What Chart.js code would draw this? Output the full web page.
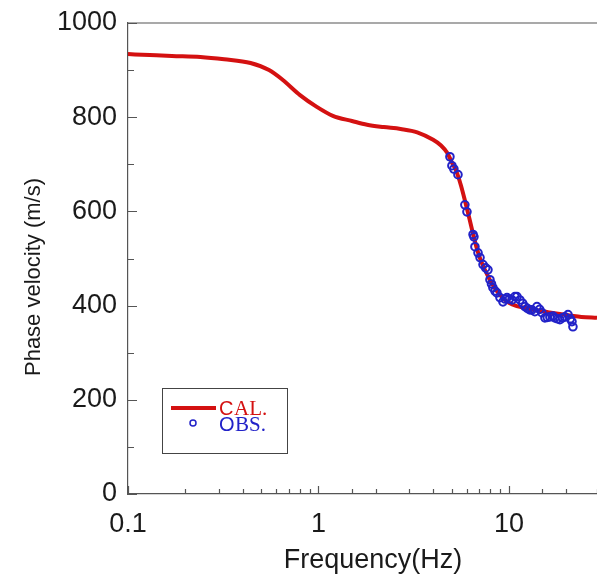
<!DOCTYPE html>
<html>
<head>
<meta charset="utf-8">
<script src="https://cdn.jsdelivr.net/npm/chart.js@4.4.1/dist/chart.umd.min.js"></script>
<style>
  body { margin: 0; background: #fff; overflow: hidden; }
  #wrap { width: 597px; height: 580px; overflow: hidden; }
</style>
</head>
<body>
<div id="wrap"><canvas id="grafica" width="603" height="580"></canvas></div>
<script>
// calculated dispersion curve
const calFreq = [0.1, 0.13, 0.17, 0.24, 0.32, 0.44, 0.55, 0.65, 0.8, 0.98, 1.19, 1.5, 1.8, 2.2, 2.7, 3.3, 4.0, 4.4, 4.75, 5.0, 5.3, 5.6, 5.9, 6.2, 6.5, 6.8, 7.1, 7.5, 8.0, 8.6, 9.3, 10, 11, 12.5, 14, 16, 18.5, 21, 24, 29];
const calVel = [934, 932, 930, 928, 923, 915, 900, 879, 847, 822, 803, 792, 784, 779, 775, 768, 752, 740, 724, 705, 685, 655, 620, 585, 550, 520, 497, 475, 452, 432, 416, 406, 399, 394, 390, 386, 382, 379, 376, 374];

// observed points
const obsFreq = [4.9, 5.02, 5.14, 5.4, 5.87, 6.02, 6.48, 6.55, 6.63, 6.88, 7.05, 7.31, 7.55, 7.76, 7.95, 8.1, 8.24, 8.45, 8.65, 8.97, 9.3, 9.55, 9.77, 10.05, 10.38, 10.75, 11.02, 11.42, 11.8, 12.14, 12.5, 12.89, 13.21, 13.69, 14.03, 14.5, 14.9, 15.45, 15.9, 16.41, 17.0, 17.42, 18.0, 18.52, 19.1, 19.68, 20.42, 21.0, 21.43, 21.68];
const obsVel = [716, 697, 690, 678, 614, 599, 551, 546, 525, 512, 502, 487, 480, 476, 455, 446, 438, 431, 427, 417, 408, 414, 417, 414, 412, 419, 419, 412, 405, 398, 394, 391, 391, 387, 398, 392, 385, 374, 375, 376, 378, 374, 372, 370, 374, 376, 381, 372, 366, 355];

const yTicks = [0, 200, 400, 600, 800, 1000];
const xLabels = [0.1, 1, 10];

const rojo = '#d41111';
const azul = '#2222c8';
const ejes = '#555555';

const calPts = calFreq.map((f, i) => ({ x: f, y: calVel[i] }));
const obsPts = obsFreq.map((f, i) => ({ x: f, y: obsVel[i] }));

// inward ticks, top frame, axis titles and legend box
const extras = {
    id: 'extras',
    afterDraw(chart) {
        const ctx = chart.ctx;
        const area = chart.chartArea;
        const xs = chart.scales.x;
        const ys = chart.scales.y;
        ctx.save();
        ctx.strokeStyle = ejes;
        ctx.lineWidth = 1.2;
        ctx.beginPath();
        ctx.moveTo(area.left, area.top);
        ctx.lineTo(chart.width, area.top);
        xs.ticks.forEach(t => {
            const px = Math.round(xs.getPixelForValue(t.value)) + 0.5;
            const major = xLabels.includes(Number(t.value.toPrecision(3)));
            ctx.moveTo(px, area.bottom);
            ctx.lineTo(px, area.bottom - (major ? 8 : 5));
        });
        ys.ticks.forEach(t => {
            const py = Math.round(ys.getPixelForValue(t.value)) + 0.5;
            ctx.moveTo(area.left, py);
            ctx.lineTo(area.left + (t.value % 200 === 0 ? 9 : 6), py);
        });
        ctx.stroke();

        // axis titles
        ctx.fillStyle = '#1a1a1a';
        ctx.font = '27px "Liberation Sans", Arial, sans-serif';
        ctx.textAlign = 'center';
        ctx.textBaseline = 'alphabetic';
        ctx.fillText('Frequency(Hz)', 373, 568);
        ctx.save();
        ctx.translate(40, 277);
        ctx.rotate(-Math.PI / 2);
        ctx.font = '22px "Liberation Sans", Arial, sans-serif';
        ctx.fillText('Phase velocity (m/s)', 0, 0);
        ctx.restore();

        // legend
        ctx.strokeStyle = '#444';
        ctx.lineWidth = 1;
        ctx.strokeRect(162.5, 388.5, 125, 65);
        ctx.strokeStyle = rojo;
        ctx.lineWidth = 4;
        ctx.beginPath();
        ctx.moveTo(171, 408);
        ctx.lineTo(216, 408);
        ctx.stroke();
        ctx.strokeStyle = azul;
        ctx.lineWidth = 1.5;
        ctx.beginPath();
        ctx.arc(193, 423, 3, 0, Math.PI * 2);
        ctx.stroke();

        ctx.textAlign = 'left';
        ctx.fillStyle = rojo;
        ctx.font = '20px "Liberation Sans", Arial, sans-serif';
        ctx.fillText('C', 219, 415);
        ctx.font = '21px "Liberation Serif", "Times New Roman", serif';
        ctx.fillText('AL.', 234, 415);
        ctx.fillStyle = azul;
        ctx.font = '20px "Liberation Sans", Arial, sans-serif';
        ctx.fillText('O', 219, 431);
        ctx.font = '21px "Liberation Serif", "Times New Roman", serif';
        ctx.fillText('BS.', 235, 431);
        ctx.restore();
    }
};

const ctx = document.getElementById('grafica').getContext('2d');
new Chart(ctx, {
    type: 'scatter',
    data: {
        datasets: [{
            label: 'OBS.',
            data: obsPts,
            showLine: false,
            pointStyle: 'circle',
            pointRadius: 3.8,
            pointBorderWidth: 2,
            pointBorderColor: azul,
            pointBackgroundColor: 'rgba(0,0,0,0)',
            order: 0
        }, {
            label: 'CAL.',
            data: calPts,
            showLine: true,
            borderColor: rojo,
            borderWidth: 4,
            pointRadius: 0,
            cubicInterpolationMode: 'monotone',
            order: 1
        }]
    },
    options: {
        responsive: false,
        animation: false,
        layout: { padding: { top: 23, left: 0, right: 0, bottom: 0 } },
        plugins: {
            legend: { display: false },
            tooltip: { enabled: false },
            title: { display: false }
        },
        scales: {
            x: {
                type: 'logarithmic',
                min: 0.1,
                max: 29,
                grid: { display: false },
                border: { display: true, color: ejes, width: 1.2 },
                afterFit: s => { s.height = 86; },
                ticks: {
                    autoSkip: false,
                    maxRotation: 0,
                    padding: 6,
                    color: '#1a1a1a',
                    font: { family: '"Liberation Sans", Arial, sans-serif', size: 27 },
                    callback: function (v) {
                        const n = Number(Number(v).toPrecision(3));
                        return xLabels.includes(n) ? String(n) : '';
                    }
                }
            },
            y: {
                min: 0,
                max: 1000,
                grid: { display: false },
                border: { display: true, color: ejes, width: 1.2 },
                afterFit: s => { s.width = 128; },
                ticks: {
                    stepSize: 100,
                    padding: 3,
                    color: '#1a1a1a',
                    font: { family: '"Liberation Sans", Arial, sans-serif', size: 27 },
                    callback: v => yTicks.includes(v) ? String(v) : ''
                }
            }
        }
    },
    plugins: [extras]
});
</script>
</body>
</html>
